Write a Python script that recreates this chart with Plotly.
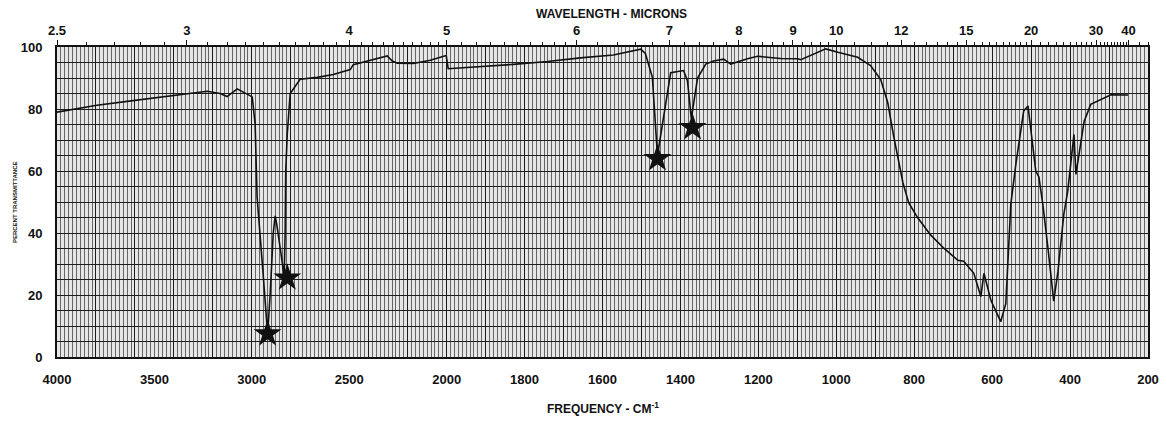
import numpy as np
import plotly.graph_objects as go

# ---------------- data ----------------
freq = [4000, 3795, 3610, 3404, 3229, 3163, 3127, 3075, 3024, 2998, 2983, 2973, 2942, 2926,
        2919, 2906, 2890, 2880, 2870, 2854, 2839, 2834, 2829, 2826, 2818, 2803, 2752, 2664,
        2582, 2495, 2479, 2392, 2305, 2279, 2253, 2171, 2084, 2007, 2002, 1996, 1913, 1829,
        1741, 1657, 1572, 1502, 1490, 1472, 1459, 1443, 1425, 1392, 1382, 1372, 1356, 1335,
        1315, 1289, 1271, 1228, 1202, 1143, 1099, 1091, 1027, 996, 945, 912, 886, 868, 853,
        829, 814, 791, 758, 724, 688, 673, 647, 629, 621, 603, 578, 565, 557, 552, 539, 519,
        508, 501, 488, 480, 470, 457, 442, 431, 416, 406, 390, 385, 364, 347, 321, 295, 251]
transmittance = [79.0, 81.2, 82.7, 84.2, 85.7, 85.0, 84.0, 86.5, 84.9, 83.9, 75.2, 51.7, 26.8, 12,
                 7.5, 20, 40, 45.5, 42, 35, 28, 26, 40, 60, 72, 85, 89.6, 90.2,
                 91.1, 92.7, 94.3, 95.8, 97.1, 95.5, 94.8, 94.7, 95.7, 97.2, 97.2, 93.0, 93.6, 94.4,
                 95.3, 96.5, 97.4, 99.3, 97.9, 90.2, 65, 78, 91.7, 92.4, 89.1, 77, 90.0, 94.5,
                 95.5, 96.1, 94.5, 96.2, 97.0, 96.3, 96.2, 95.9, 99.4, 98.3, 96.7, 94.0, 89.5, 82.1, 71.4,
                 56.2, 49.7, 44.9, 39.4, 35.1, 31.2, 30.9, 27.0, 19.5, 27.0, 18.2, 11.4, 17.2, 35.5, 49.4, 62.3, 79.4,
                 81.0, 72.9, 60.0, 58.1, 49.3, 35.4, 18.0, 27.7, 46.1, 53.5, 71.8, 58.9, 76.0, 81.5, 83.0, 84.6, 84.5]

star_freq = [2919, 2818, 1459, 1369]
star_trans = [7.5, 25.5, 64.0, 74.0]

freq_ticks = [4000, 3500, 3000, 2500, 2000, 1800, 1600, 1400, 1200, 1000, 800, 600, 400, 200]
micron_labels = [2.5, 3, 4, 5, 6, 7, 8, 9, 10, 12, 15, 20, 30, 40]
y_ticks = [0, 20, 40, 60, 80, 100]

# minor wavelength ticks on the top scale
micron_minor = (list(np.round(np.arange(2.6, 6.0, 0.1), 2)) +
                list(np.round(np.arange(6.2, 10.0, 0.2), 2)) +
                list(np.round(np.arange(10.5, 20.0, 0.5), 2)) +
                list(np.arange(21, 40, 1.0)) + [45.0, 50.0])
micron_minor = [m for m in micron_minor if m not in micron_labels]


# chart-paper abscissa: 4000-2000 cm-1 at half scale, 2000-200 cm-1 at full scale
def paper(f):
    f = np.asarray(f, dtype=float)
    return np.where(f >= 2000, (4000 - f) / 2.0, 1000 + (2000 - f))


RANGE = [0, 2800]
FONT = "Liberation Sans"

fig = go.Figure()
fig.add_trace(go.Scatter(x=paper(freq), y=transmittance, mode="lines",
                         line=dict(color="#111", width=1.6), xaxis="x", yaxis="y",
                         hoverinfo="skip"))
fig.add_trace(go.Scatter(x=paper(star_freq), y=star_trans, mode="markers",
                         marker=dict(symbol="star", size=21, color="#111"),
                         xaxis="x2", yaxis="y", hoverinfo="skip"))
fig.add_trace(go.Scatter(x=paper(freq), y=transmittance, mode="lines",
                         line=dict(width=0), opacity=0, xaxis="x3", yaxis="y",
                         hoverinfo="skip"))

fig.update_layout(
    width=1167, height=421,
    margin=dict(l=57, r=19, t=47, b=64, autoexpand=False),
    paper_bgcolor="white", plot_bgcolor="#e6e6e6",
    showlegend=False,
    font=dict(family=FONT, color="#111"),
    xaxis=dict(range=RANGE, tickmode="linear", tick0=0, dtick=100, automargin=False,
               showgrid=True, gridcolor="#1c1c1c", gridwidth=1.4,
               minor=dict(dtick=10, showgrid=True, gridcolor="#666666", gridwidth=1),
               showticklabels=False, ticks="", zeroline=False,
               showline=True, linecolor="#111", linewidth=2, mirror=True),
    xaxis2=dict(range=RANGE, overlaying="x", side="bottom", anchor="y", automargin=False,
                tickmode="array", tickvals=paper(freq_ticks).tolist(),
                ticktext=[str(v) for v in freq_ticks],
                tickfont=dict(family=FONT, size=13, weight="bold"),
                ticks="", ticklabelstandoff=13, showgrid=False, zeroline=False),
    xaxis3=dict(range=RANGE, overlaying="x", side="top", anchor="y", automargin=False,
                tickmode="array", tickvals=paper(10000 / np.array(micron_labels)).tolist(),
                ticktext=[("%g" % v) for v in micron_labels],
                tickfont=dict(family=FONT, size=13, weight="bold"),
                ticks="outside", ticklen=6, tickwidth=1, tickcolor="#111",
                minor=dict(tickmode="array",
                           tickvals=paper(10000 / np.array(micron_minor)).tolist(),
                           ticks="outside", ticklen=4, tickwidth=1, tickcolor="#111",
                           showgrid=False),
                showgrid=False, zeroline=False),
    yaxis=dict(range=[0, 100], tickmode="array", automargin=False,
               tickvals=y_ticks, ticktext=[str(v) for v in y_ticks],
               tickfont=dict(family=FONT, size=13, weight="bold"),
               ticks="", ticklabelstandoff=10,
               showgrid=True, gridcolor="#1c1c1c", gridwidth=1.4, zeroline=False,
               minor=dict(tickmode="linear", tick0=0, dtick=5, showgrid=True,
                          gridcolor="#1c1c1c", gridwidth=1.4, ticks=""),
               showline=True, linecolor="#111", linewidth=2, mirror=True),
    annotations=[
        dict(text="<b>WAVELENGTH - MICRONS</b>", xref="paper", yref="paper",
             x=0.508, y=1.105, xanchor="center", yanchor="middle",
             showarrow=False, font=dict(family=FONT, size=12)),
        dict(text="<b>FREQUENCY - CM<sup>-1</sup></b>", xref="paper", yref="paper",
             x=0.5, y=-0.165, showarrow=False, font=dict(family=FONT, size=12),
             xanchor="center", yanchor="middle"),
        dict(text="<b>PERCENT TRANSMITTANCE</b>", xref="paper", yref="paper",
             x=-0.043, y=0.5, textangle=-90, showarrow=False,
             font=dict(family=FONT, size=6)),
    ],
)

fig.write_html("out.html", config={"displayModeBar": False},
               post_script="document.body.style.margin='0px';")
